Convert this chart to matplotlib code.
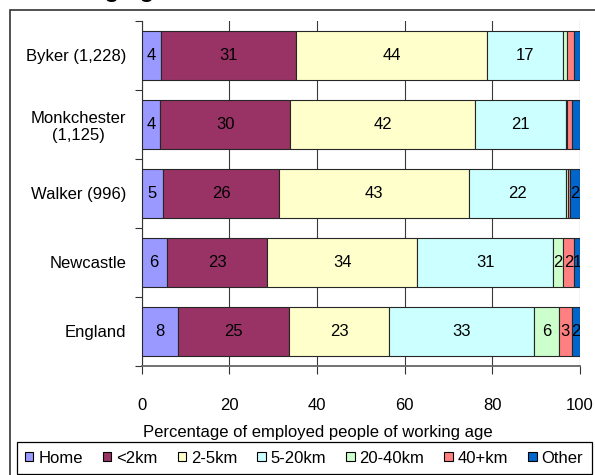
import matplotlib
matplotlib.use("Agg")
import matplotlib.pyplot as plt
from matplotlib.patches import Patch, Rectangle

plt.rcParams["font.family"] = ["Liberation Sans", "DejaVu Sans"]
plt.rcParams["font.size"] = 12

W, H = 595, 475

# data (percent of employed people of working age)
categories = ["Byker (1,228)", "Monkchester\n(1,125)", "Walker (996)", "Newcastle", "England"]
series_names = ["Home", "<2km", "2-5km", "5-20km", "20-40km", "40+km", "Other"]
home = [4.4, 4.2, 4.9, 5.7, 8.3]
under_2km = [30.8, 29.7, 26.4, 23.0, 25.3]
km_2_5 = [43.6, 42.2, 43.3, 34.2, 22.9]
km_5_20 = [17.4, 20.6, 22.2, 31.0, 33.0]
km_20_40 = [0.9, 0.3, 0.4, 2.3, 5.6]
km_40_plus = [1.6, 1.1, 0.5, 2.4, 3.0]
other = [1.3, 1.9, 2.3, 1.4, 1.9]
# segments left without a value label in the original (row, series)
unlabelled = [(0, 4), (0, 5), (0, 6), (1, 4), (1, 5), (1, 6), (2, 4), (2, 5)]

colors = ["#9999FF", "#993366", "#FFFFCC", "#CCFFFF", "#CCFFCC", "#FF8080", "#0066CC"]
edge = "#262626"


def px_x(x):
    return x / W


def px_y(y):
    return 1 - y / H


def main():
    fig = plt.figure(figsize=(W / 100, H / 100), dpi=100)
    ax = fig.add_axes([px_x(141.7), px_y(365.7), (580 - 141.7) / W, (365.7 - 20.7) / H])

    series = [home, under_2km, km_2_5, km_5_20, km_20_40, km_40_plus, other]
    ypos = list(range(len(categories)))
    left = [0.0] * len(categories)

    for s, (vals, name, col) in enumerate(zip(series, series_names, colors)):
        ax.barh(ypos, vals, left=left, height=0.715, color=col, edgecolor=edge,
                linewidth=0.8, label=name, zorder=3)
        for i, v in enumerate(vals):
            if (i, s) not in unlabelled:
                ax.text(left[i] + v / 2, i, f"{v:.0f}", ha="center", va="center",
                        fontsize=12, color="black", zorder=4, clip_on=True)
            left[i] += v

    ax.set_xlim(0, 100)
    ax.set_ylim(len(categories) - 0.5, -0.5)

    ax.set_xticks([0, 20, 40, 60, 80, 100])
    ax.tick_params(axis="x", direction="out", length=6, width=0.8, color="#333333", pad=17)
    ax.xaxis.grid(True, color="#3a3a3a", linewidth=0.8, zorder=0)

    ax.set_yticks(ypos)
    ax.set_yticklabels(categories, multialignment="center")
    ax.tick_params(axis="y", which="major", length=0, pad=11)
    ax.set_yticks([y - 0.5 for y in range(len(categories) + 1)], minor=True)
    ax.tick_params(axis="y", which="minor", direction="out", length=5, width=0.8, color="#333333")

    for side in ["top", "right"]:
        ax.spines[side].set_visible(False)
    ax.spines["left"].set_color("#333333")
    ax.spines["bottom"].set_color("#666666")
    ax.spines["left"].set_linewidth(0.8)
    ax.spines["bottom"].set_linewidth(1.3)

    fig.text(px_x(318), px_y(432.5), "Percentage of employed people of working age",
             ha="center", va="center", fontsize=12)

    # clipped title, only its descenders show at the top edge
    fig.text(px_x(168), px_y(-2.5), "Distance travelled to work \u2013 working age",
             ha="right", va="baseline", fontsize=17.4, fontweight="bold")

    handles = [Patch(facecolor=c, edgecolor="black", linewidth=0.8, label=n)
               for c, n in zip(colors, series_names)]
    leg = fig.legend(handles=handles, loc="upper left", ncol=7,
                     bbox_to_anchor=(px_x(16.7), px_y(442.3)), frameon=True,
                     fancybox=False, edgecolor="black", framealpha=1,
                     handlelength=0.5, handleheight=0.5, handletextpad=0.3,
                     columnspacing=1.2, borderpad=0.5, borderaxespad=0, fontsize=12)
    leg.get_frame().set_linewidth(0.9)

    # chart area border (right and bottom edges fall outside the picture)
    fig.patches.append(Rectangle((px_x(10.3), px_y(490)), 1.0, (490 - 10.3) / H,
                                 transform=fig.transFigure, fill=False,
                                 edgecolor="#333333", linewidth=1.2))

    fig.savefig("out.png", dpi=100)


if __name__ == "__main__":
    main()
